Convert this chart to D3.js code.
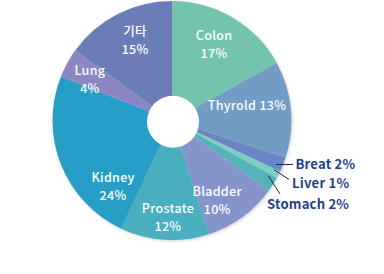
<!DOCTYPE html>
<html><head><meta charset="utf-8">
<script src="https://cdn.jsdelivr.net/npm/d3@7"></script>
<style>body{margin:0;background:#fff}svg{display:block}</style>
</head><body>
<script>
const categories = ["Colon","Thyrold","Breat","Liver","Stomach","Bladder","Prostate","Kidney","Lung","기타"];
const values = [17,13,2,1,2,10,12,24,4,15];
const colors = ["#73c4ad","#739cc5","#6a86c6","#7dd0c0","#52b3b9","#8595cc","#4aaebd","#269ec7","#8a87c3","#6b7db9"];
const insideLabels = {Colon:["Colon","17%"],Thyrold:["Thyrold 13%"],Bladder:["Bladder","10%"],Prostate:["Prostate","12%"],Kidney:["Kidney","24%"],Lung:["Lung","4%"],"기타":["기타","15%"]};
const outsideLabels = {Breat:"Breat 2%",Liver:"Liver 1%",Stomach:"Stomach 2%"};

const W=384,H=274, cx=172, cy=120.5, R=119.5, r0=26;
const svg=d3.select("body").append("svg").attr("width",W).attr("height",H);
const defs=svg.append("defs");
const f=defs.append("filter").attr("id","sh").attr("x","-10%").attr("y","-10%").attr("width","120%").attr("height","120%");
f.append("feDropShadow").attr("dx",1).attr("dy",1).attr("stdDeviation",1.5).attr("flood-color","#000").attr("flood-opacity",0.18);
const g=svg.append("g").attr("transform",`translate(${cx},${cy})`);
const pie=d3.pie().sort(null).value(d=>d.v);
const data=pie(categories.map((c,i)=>({c,v:values[i],col:colors[i]})));
const arc=d3.arc().innerRadius(0).outerRadius(R);
const pg=g.append("g").attr("filter","url(#sh)");
pg.selectAll("path").data(data).join("path").attr("d",arc).attr("fill",d=>d.data.col);
g.append("circle").attr("cx",1).attr("cy",1.2).attr("r",r0).attr("fill","#fff");

const font="'Noto Sans CJK KR','Noto Sans',sans-serif";
// label radius and angle offset (degrees) per slice
const labelR={Colon:87,Thyrold:76.5,Bladder:92,Prostate:97,Kidney:88.5,Lung:92,"기타":88};
const labelOff={Colon:-1.7,Thyrold:-5.9,Bladder:6.6,Prostate:-1.2,Kidney:-26.6,Lung:-2,"기타":2.2};
const FS=12.5, LS=18;
data.forEach(d=>{
  const lines=insideLabels[d.data.c]; if(!lines) return;
  const a=(d.startAngle+d.endAngle)/2+labelOff[d.data.c]*Math.PI/180;
  const rr=labelR[d.data.c];
  const x=Math.sin(a)*rr, y=-Math.cos(a)*rr;
  const n=lines.length;
  lines.forEach((s,i)=>g.append("text").attr("text-anchor","middle").attr("fill","#fff")
    .attr("font-family",font).attr("font-size",FS).attr("font-weight",500).attr("letter-spacing",0.3)
    .attr("x",x).attr("y",y+(i-(n-1)/2)*LS+4.5).text(s));
});

// outside labels with leader lines (label anchor positions relative to centre)
const outPos={Breat:{tx:123.5,ty:44,ex:121,ey:44,sr:112,so:0},
              Liver:{tx:120,ty:63,ex:117,ey:59,sr:113,so:-1.3},
              Stomach:{tx:95,ty:84,ex:108,ey:73.5,sr:111,so:-2.6}};
data.filter(d=>outsideLabels[d.data.c]).forEach(d=>{
  const p=outPos[d.data.c];
  const a=(d.startAngle+d.endAngle)/2+p.so*Math.PI/180;
  const sx=Math.sin(a)*p.sr, sy=-Math.cos(a)*p.sr;
  g.append("line").attr("x1",sx).attr("y1",d.data.c==="Breat"?p.ey:sy).attr("x2",p.ex).attr("y2",p.ey)
   .attr("stroke","#1c2740").attr("stroke-width",1);
  g.append("text").attr("x",p.tx).attr("y",p.ty+4.7).attr("fill","#1f3e8c")
   .attr("font-family",font).attr("font-size",13.1).attr("font-weight",600).attr("letter-spacing",0.2)
   .text(outsideLabels[d.data.c]);
});
</script>
</body></html>
